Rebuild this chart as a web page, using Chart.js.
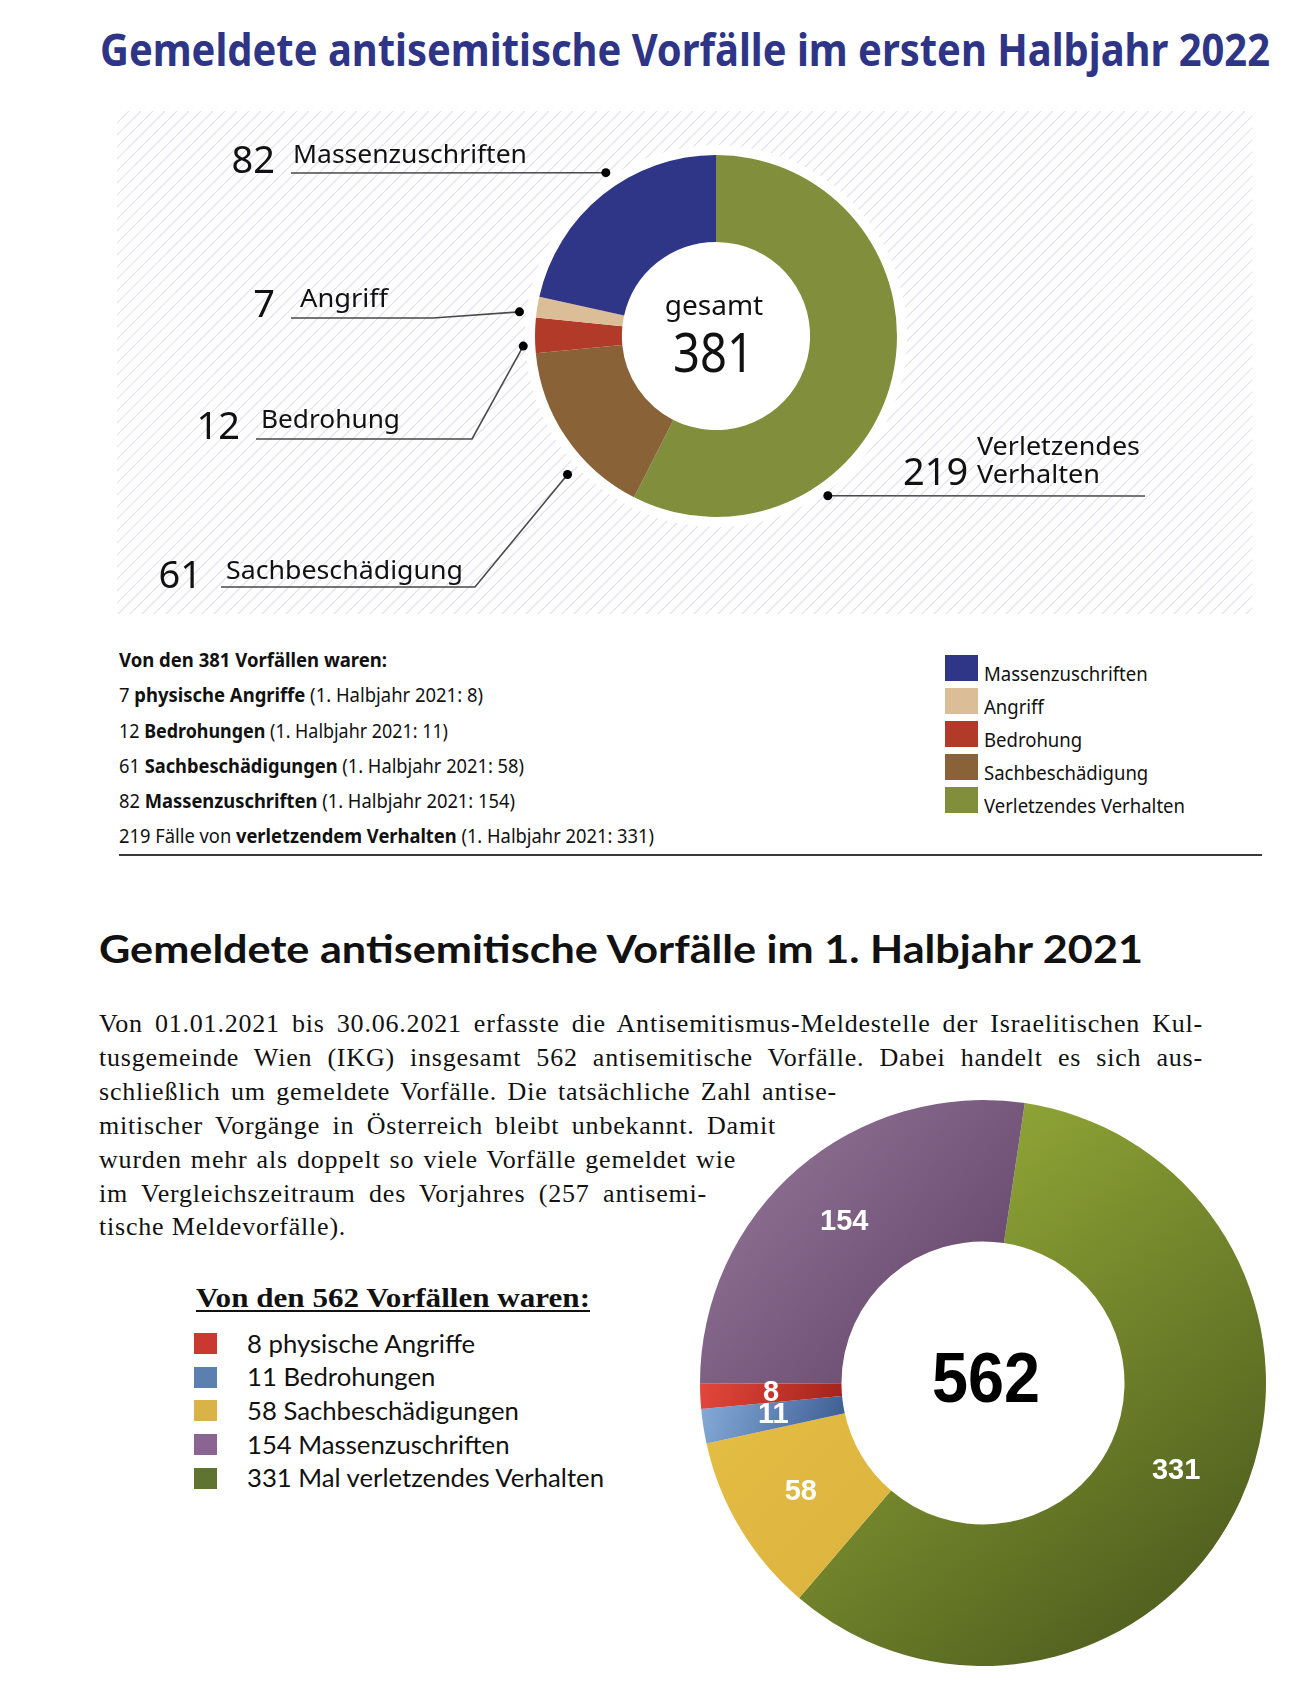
<!DOCTYPE html>
<html lang="de">
<head>
<meta charset="utf-8">
<title>Gemeldete antisemitische Vorfälle</title>
<script src="https://cdn.jsdelivr.net/npm/chart.js@4.4.1/dist/chart.umd.min.js"></script>
<style>
  body { margin: 0; background: #fff; }
  #page { position: relative; width: 1314px; height: 1688px; overflow: hidden; background: #fff; color: #111; }
  .t { position: absolute; left: 0; top: 0; white-space: nowrap; line-height: 1.2; transform-origin: left top; }
  .ns { font-family: "Noto Sans", "Open Sans", sans-serif; }
  .serif { font-family: "Liberation Serif", "DejaVu Serif", serif; }
  .body { font-size: 26px; letter-spacing: 0.8px; }
  .lato { font-family: Lato, "Noto Sans", sans-serif; }
  canvas { position: absolute; }
  .sq { position: absolute; }
</style>
</head>
<body>
<div id="page">
  <div class="t ns" data-x="100" data-y="66" data-w="1170" style="font-size:44px;font-weight:700;color:#2e3586">Gemeldete antisemitische Vorfälle im ersten Halbjahr 2022</div>

  <canvas id="chart2022" width="1135" height="503" style="left:117px;top:111px;width:1135px;height:503px"></canvas>
  <div id="callouts"></div>
  <div class="t ns" data-c="714" data-y="315" style="font-size:28px">gesamt</div>
  <div class="t ns" id="total2022" data-c="713" data-y="372" data-w="81" style="font-size:54px"></div>

  <div class="t ns" data-x="119" data-y="667" data-w="268" style="font-size:20px;font-weight:700">Von den 381 Vorfällen waren:</div>
  <div class="t ns" data-x="119" data-y="702" data-w="364" style="font-size:20px">7 <b>physische Angriffe</b> (1. Halbjahr 2021: 8)</div>
  <div class="t ns" data-x="119" data-y="738" data-w="329" style="font-size:20px">12 <b>Bedrohungen</b> (1. Halbjahr 2021: 11)</div>
  <div class="t ns" data-x="119" data-y="773" data-w="405" style="font-size:20px">61 <b>Sachbeschädigungen</b> (1. Halbjahr 2021: 58)</div>
  <div class="t ns" data-x="119" data-y="808" data-w="396" style="font-size:20px">82 <b>Massenzuschriften</b> (1. Halbjahr 2021: 154)</div>
  <div class="t ns" data-x="119" data-y="843" data-w="535" style="font-size:20px">219 Fälle von <b>verletzendem Verhalten</b> (1. Halbjahr 2021: 331)</div>
  <div style="position:absolute;left:119px;top:854px;width:1143px;height:2px;background:#3a3a3a"></div>
  <div id="legend2022"></div>

  <div class="t lato" data-x="99" data-y="963" data-w="1044" style="font-size:39px;font-weight:700">Gemeldete antisemitische Vorfälle im 1. Halbjahr 2021</div>
  <div class="t serif body" data-x="99" data-y="1032" data-j="1104">Von 01.01.2021 bis 30.06.2021 erfasste die Antisemitismus-Meldestelle der Israelitischen Kul-</div>
  <div class="t serif body" data-x="99" data-y="1066" data-j="1104">tusgemeinde Wien (IKG) insgesamt 562 antisemitische Vorfälle. Dabei handelt es sich aus-</div>
  <div class="t serif body" data-x="99" data-y="1100" data-j="738">schließlich um gemeldete Vorfälle. Die tatsächliche Zahl antise-</div>
  <div class="t serif body" data-x="99" data-y="1134" data-j="677">mitischer Vorgänge in Österreich bleibt unbekannt. Damit</div>
  <div class="t serif body" data-x="99" data-y="1168" data-j="637">wurden mehr als doppelt so viele Vorfälle gemeldet wie</div>
  <div class="t serif body" data-x="99" data-y="1202" data-j="608">im Vergleichszeitraum des Vorjahres (257 antisemi-</div>
  <div class="t serif body" data-x="99" data-y="1235">tische Meldevorfälle).</div>

  <div class="t serif" data-x="196" data-y="1307" data-w="394" style="font-size:28px;font-weight:700;text-decoration:underline;text-underline-offset:3px">Von den 562 Vorfällen waren:</div>
  <div id="legend2021"></div>

  <canvas id="chart2021" width="590" height="590" style="left:688px;top:1088px;width:590px;height:590px"></canvas>
  <div class="t" id="total2021" data-c="986" data-y="1402" data-w="108" style="font-family:'Liberation Sans',Arial,sans-serif;font-size:70px;font-weight:700;color:#000"></div>
</div>

<script>
// 1. Halbjahr 2022 (legend order)
const cats2022 = ["Massenzuschriften", "Angriff", "Bedrohung", "Sachbeschädigung", "Verletzendes Verhalten"];
const vals2022 = [82, 7, 12, 61, 219];
const colors2022 = ["#2f3687", "#dbbd98", "#b23a28", "#8a6237", "#818f3c"];
const ring2022 = [4, 3, 2, 1, 0]; // clockwise from 12 o'clock

// 1. Halbjahr 2021 (legend order)
const cats2021 = ["physische Angriffe", "Bedrohungen", "Sachbeschädigungen", "Massenzuschriften", "Mal verletzendes Verhalten"];
const vals2021 = [8, 11, 58, 154, 331];
const swatch2021 = ["#c9392f", "#5b80b0", "#d9b347", "#8a6591", "#5e7430"];
const shade2021 = [["#e3473c", "#a3231a"], ["#86acd9", "#3a5a90"], ["#e4bd45", "#dcb23c"], ["#977a9c", "#5e3f64"], ["#a0b73c", "#44521a"]];
const ring2021 = [4, 2, 1, 0, 3];

const OX1 = 117, OY1 = 111;

// callout layout (page coords)
const callouts = [
  { i: 0, num: { r: 275, y: 173 }, lab: [{ x: 293, y: 163, w: 234 }], ang: 326, dist: 197, path: [[291, 173]] },
  { i: 1, num: { r: 275, y: 317 }, lab: [{ x: 300, y: 307, w: 88 }], ang: 277, dist: 198, path: [[291, 318], [433, 318]] },
  { i: 2, num: { r: 240, y: 439 }, lab: [{ x: 261, y: 428, w: 139 }], ang: 267, dist: 193, path: [[256, 439], [472, 439]] },
  { i: 3, num: { r: 202, y: 588 }, lab: [{ x: 226, y: 579, w: 237 }], ang: 227, dist: 203, path: [[221, 587], [475, 587]] },
  { i: 4, num: { x: 903, y: 485 }, lab: [{ x: 977, y: 455, w: 163 }, { x: 977, y: 483, w: 123 }], ang: 145, dist: 195, path: [[1145, 496]] }
];

function textEl(parent, cls, txt, attrs, style) {
  const d = document.createElement("div");
  d.className = "t " + cls;
  d.textContent = txt;
  Object.keys(attrs).forEach(k => d.dataset[k] = attrs[k]);
  d.style.cssText = style;
  parent.appendChild(d);
  return d;
}

// callout texts
const co = document.getElementById("callouts");
callouts.forEach(c => {
  const words = c.lab.length > 1 ? cats2022[c.i].split(" ") : [cats2022[c.i]];
  const na = { y: c.num.y };
  if (c.num.r) na.r = c.num.r; else na.x = c.num.x;
  textEl(co, "ns", String(vals2022[c.i]), na, "font-size:38px");
  c.lab.forEach((l, k) => textEl(co, "ns", words[k], { x: l.x, y: l.y, w: l.w }, "font-size:25px"));
});

document.getElementById("total2022").textContent = vals2022.reduce((a, b) => a + b, 0);
document.getElementById("total2021").textContent = vals2021.reduce((a, b) => a + b, 0);

// legend 2022
const lg1 = document.getElementById("legend2022");
cats2022.forEach((c, i) => {
  const s = document.createElement("div");
  s.className = "sq";
  s.style.cssText = `left:945px;top:${655 + 33 * i}px;width:33px;height:26px;background:${colors2022[i]}`;
  lg1.appendChild(s);
  const a = { x: 984, y: 681 + 33 * i, g: "lg1" };
  if (i === 4) a.gw = 201;
  textEl(lg1, "ns", c, a, "font-size:20px");
});

// legend 2021
const lg2 = document.getElementById("legend2021");
cats2021.forEach((c, i) => {
  const top = 1333 + 33.7 * i;
  const s = document.createElement("div");
  s.className = "sq";
  s.style.cssText = `left:194px;top:${top}px;width:23px;height:21px;background:${swatch2021[i]}`;
  lg2.appendChild(s);
  const a = { x: 247, y: top + 19.5, g: "lg2" };
  if (i === 4) a.gw = 357;
  textEl(lg2, "lato", vals2021[i] + " " + c, a, "font-size:25px");
});

// place texts by baseline, fit widths
function layoutTexts() {
  const els = Array.from(document.querySelectorAll(".t"));
  const groups = {};
  const info = els.map(el => {
    const d = el.dataset;
    el.style.transform = "";
    el.style.wordSpacing = "";
    el.style.left = (d.x || 0) + "px";
    const m = document.createElement("span");
    m.style.cssText = "display:inline-block;width:0;height:0;vertical-align:baseline";
    el.appendChild(m);
    const r0 = el.getBoundingClientRect();
    const off = m.getBoundingClientRect().top - r0.top;
    el.removeChild(m);
    if (d.g && d.gw) groups[d.g] = +d.gw / r0.width;
    return { el, off, w: r0.width };
  });
  info.forEach(({ el, off, w }) => {
    const d = el.dataset;
    if (d.j) {
      const spaces = (el.textContent.match(/ /g) || []).length;
      el.style.wordSpacing = ((+d.j - w) / spaces) + "px";
      w = +d.j;
    }
    let s = 1;
    if (d.w) s = +d.w / w;
    if (d.g && groups[d.g]) s = groups[d.g];
    if (s !== 1) { el.style.transform = `scaleX(${s})`; w = w * s; }
    el.style.top = (+d.y - off) + "px";
    if (d.r) el.style.left = (+d.r - w) + "px";
    else if (d.c) el.style.left = (+d.c - w / 2) + "px";
  });
}

// chart 2022
const hatch = {
  id: "hatch",
  beforeDraw(chart) {
    const { ctx, width, height } = chart;
    ctx.save();
    ctx.fillStyle = "#fff";
    ctx.fillRect(0, 0, width, height);
    ctx.strokeStyle = "#e2e2ec";
    ctx.lineWidth = 1.2;
    ctx.beginPath();
    for (let k = -height; k < width; k += 12) {
      ctx.moveTo(k, height);
      ctx.lineTo(k + height, 0);
    }
    ctx.stroke();
    const arc = chart.getDatasetMeta(0).data[0];
    ctx.fillStyle = "#fff";
    ctx.beginPath();
    ctx.arc(arc.x, arc.y, arc.outerRadius + 10, 0, Math.PI * 2);
    ctx.fill();
    ctx.restore();
  }
};

const leaders = {
  id: "leaders",
  afterDraw(chart) {
    const ctx = chart.ctx;
    const arc = chart.getDatasetMeta(0).data[0];
    ctx.save();
    callouts.forEach(c => {
      const a = c.ang * Math.PI / 180;
      const dx = arc.x + c.dist * Math.sin(a), dy = arc.y - c.dist * Math.cos(a);
      ctx.strokeStyle = "#4a4a4a";
      ctx.lineWidth = 1.6;
      ctx.beginPath();
      ctx.moveTo(c.path[0][0] - OX1, c.path[0][1] - OY1);
      c.path.slice(1).forEach(p => ctx.lineTo(p[0] - OX1, p[1] - OY1));
      ctx.lineTo(dx, dy);
      ctx.stroke();
      ctx.fillStyle = "#000";
      ctx.beginPath();
      ctx.arc(dx, dy, 4.5, 0, Math.PI * 2);
      ctx.fill();
    });
    ctx.restore();
  }
};

new Chart(document.getElementById("chart2022"), {
  type: "doughnut",
  data: {
    labels: ring2022.map(i => cats2022[i]),
    datasets: [{
      data: ring2022.map(i => vals2022[i]),
      backgroundColor: ring2022.map(i => colors2022[i]),
      borderWidth: 0,
      radius: 181,
      cutout: "52%",
      rotation: 0
    }]
  },
  options: {
    responsive: false,
    animation: false,
    layout: { padding: { left: 63, bottom: 53 } },
    plugins: { legend: { display: false }, tooltip: { enabled: false } }
  },
  plugins: [hatch, leaders]
});

// chart 2021
function arcBox(el) {
  let minX = Infinity, minY = Infinity, maxX = -Infinity, maxY = -Infinity;
  for (let k = 0; k <= 40; k++) {
    const t = el.startAngle + (el.endAngle - el.startAngle) * k / 40;
    [el.innerRadius, el.outerRadius].forEach(r => {
      const x = el.x + r * Math.cos(t), y = el.y + r * Math.sin(t);
      minX = Math.min(minX, x); maxX = Math.max(maxX, x);
      minY = Math.min(minY, y); maxY = Math.max(maxY, y);
    });
  }
  return { minX, minY, maxX, maxY };
}

const shading = {
  id: "shading",
  beforeDatasetsDraw(chart) {
    const ctx = chart.ctx;
    chart.getDatasetMeta(0).data.forEach((el, k) => {
      const pair = shade2021[ring2021[k]];
      const b = arcBox(el);
      const g = ctx.createLinearGradient(b.minX, b.minY, b.maxX, b.maxY);
      g.addColorStop(0, pair[0]);
      g.addColorStop(1, pair[1]);
      el.options.backgroundColor = g;
    });
  }
};

const valueLabels = {
  id: "valueLabels",
  afterDatasetsDraw(chart) {
    const ctx = chart.ctx;
    const ds = chart.data.datasets[0];
    ctx.save();
    ctx.fillStyle = "#fff";
    ctx.font = "bold 29px 'Liberation Sans', Arial, sans-serif";
    ctx.textAlign = "center";
    ctx.textBaseline = "middle";
    chart.getDatasetMeta(0).data.forEach((el, k) => {
      const p = el.tooltipPosition();
      ctx.fillText(String(ds.data[k]), p.x, p.y);
    });
    ctx.restore();
  }
};

new Chart(document.getElementById("chart2021"), {
  type: "doughnut",
  data: {
    labels: ring2021.map(i => cats2021[i]),
    datasets: [{
      data: ring2021.map(i => vals2021[i]),
      backgroundColor: ring2021.map(i => swatch2021[i]),
      borderWidth: 0,
      radius: 283,
      cutout: "50%",
      rotation: 8.5
    }]
  },
  options: {
    responsive: false,
    animation: false,
    plugins: { legend: { display: false }, tooltip: { enabled: false } }
  },
  plugins: [shading, valueLabels]
});

layoutTexts();
document.fonts.ready.then(layoutTexts);
</script>
</body>
</html>
